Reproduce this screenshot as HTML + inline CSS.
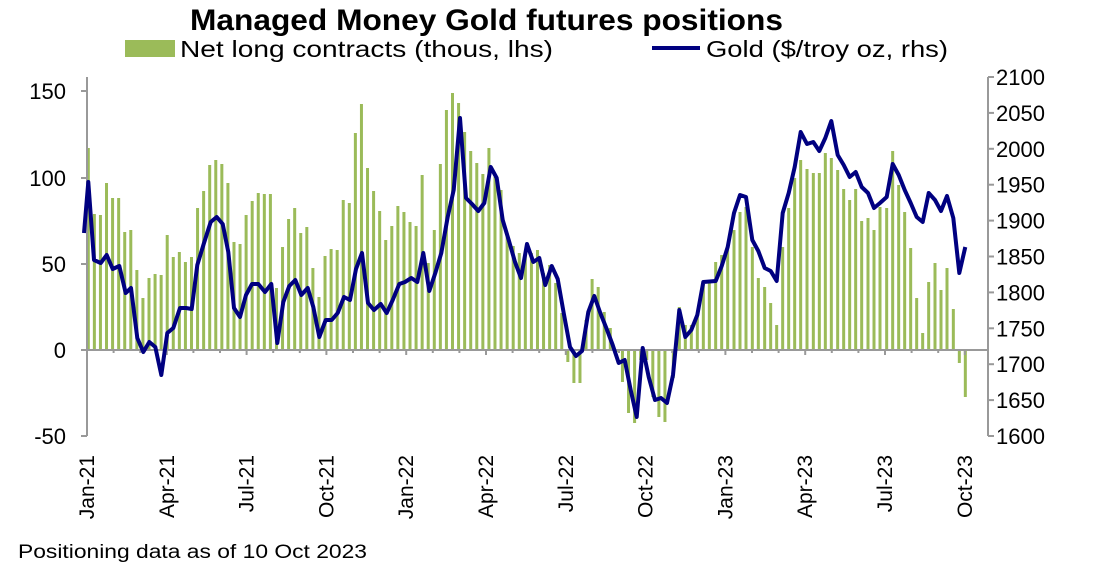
<!DOCTYPE html>
<html><head><meta charset="utf-8"><style>
body{margin:0;background:#fff;}
svg{display:block;font-family:"Liberation Sans",sans-serif;}
</style></head><body>
<svg id="c" width="1094" height="584" xmlns="http://www.w3.org/2000/svg">
<text x="190" y="30" font-size="30" font-weight="bold" fill="#000" textLength="593" lengthAdjust="spacingAndGlyphs">Managed Money Gold futures positions</text>
<rect x="125" y="40" width="50" height="17" fill="#9bbb59"/>
<text x="180" y="57" font-size="23" fill="#000" textLength="373" lengthAdjust="spacingAndGlyphs">Net long contracts (thous, lhs)</text>
<line x1="652" y1="48" x2="700" y2="48" stroke="#000080" stroke-width="4"/>
<text x="706" y="57" font-size="23" fill="#000" textLength="242" lengthAdjust="spacingAndGlyphs">Gold ($/troy oz, rhs)</text>
<g id="bars" fill="#9bbb59"></g>
<line x1="87" y1="77" x2="87" y2="436" stroke="#999" stroke-width="2"/>
<line x1="988" y1="77" x2="988" y2="436" stroke="#999" stroke-width="2"/>
<line x1="87" y1="350" x2="988" y2="350" stroke="#999" stroke-width="2"/>
<g id="ticks" stroke="#999" stroke-width="2"></g>
<polyline id="gold" fill="none" stroke="#000080" stroke-width="4" stroke-linejoin="round"/>
<g font-size="22" fill="#000" text-anchor="end">
<text x="66" y="99">150</text><text x="66" y="186">100</text><text x="66" y="272">50</text><text x="66" y="358">0</text><text x="66" y="444">-50</text>
</g>
<g id="rl" font-size="22" fill="#000"></g>
<g id="xl" font-size="21" fill="#000"></g>
<text x="18" y="558" font-size="19" fill="#000" textLength="349" lengthAdjust="spacingAndGlyphs">Positioning data as of 10 Oct 2023</text>
</svg>
<script>
var ns="http://www.w3.org/2000/svg";
function el(t,a,p,txt){var e=document.createElementNS(ns,t);for(var k in a)e.setAttribute(k,a[k]);if(txt)e.textContent=txt;document.getElementById(p).appendChild(e);}
var A=[148,214,215,183,198,198,232,230,270,298,278,274,275,235,257,252,262,257,208,191,165,160,164,183,242,244,215,201,193,194,194,288,247,219,208,233,227,268,297,256,249,250,200,203,133,104,168,191,211,240,226,206,212,222,226,175,263,230,164,110,93,103,132,151,163,174,148,177,190,233,246,253,253,253,250,273,265,283,313,362,383,383,320,279,287,312,328,352,382,413,423,360,360,397,417,422];
for(var i=0;i<A.length;i++){var x=88.3+i*6.07,y=A[i];el("rect",{x:x-1.5,y:Math.min(y,350),width:3,height:Math.abs(350-y)},"bars");}
var B=[[10,378],[28,307],[46,325],[64,325],[82,315],[100,282],[118,282],[137,262],[155,255],[173,245],[192,230],[210,212],[228,207],[247,247],[265,278],[284,287],[302,303],[320,325],[338,247],[356,208],[374,178],[392,160],[411,169],[430,173],[448,173],[466,153],[484,158],[503,170],[521,189],[539,200],[557,189],[575,221],[594,218],[612,230],[630,207],[650,208],[668,151],[686,185],[704,212],[722,248],[740,298],[758,333],[776,282],[795,263],[813,290],[831,268],[850,309],[868,363],[886,397]];
B.forEach(function(b){var x=670+b[0]/3,y=b[1];el("rect",{x:x-1.5,y:Math.min(y,350),width:3,height:Math.abs(350-y)},"bars");});
var G=[[84,233],[88.3,182],[94,260],[100.7,263],[106.7,255],[112.7,269],[119.3,266],[125.7,293],[131,288],[137.3,338],[143.3,352],[149.3,342],[155.3,347],[161.3,375],[167.3,333],[173.3,328],[180,308],[186,308],[191.7,309],[197.3,265],[204,243],[210.7,222],[216.7,217],[222.7,224],[228.3,252],[234,308],[240,317],[246,295],[252,284],[258.3,284],[265,292],[271.3,284],[277.3,343],[283.3,302],[289.3,286],[295.3,280],[301.3,295],[307.7,288],[313.3,307],[319.3,337],[325.7,320],[331.7,320],[337.7,313],[344,297],[350,300],[356,269],[362,253],[368,303],[374,310],[380.7,304],[386.7,313],[392.7,300],[399.3,284],[405,282],[411.3,278],[417.3,282],[423.3,253],[429.3,291],[435.3,273],[441.3,253],[447.7,217],[453.7,190],[460,118],[466,198],[472,204],[478.3,211],[484.3,203],[490.7,167],[496.7,178],[502.7,220],[508.7,240],[515,262],[521,278],[527,244],[533.3,262],[539.3,258],[545.3,285],[551.7,266],[557.7,279],[563.7,313],[570,347],[576,356],[582,351],[588.3,312],[594.3,296],[600.3,313],[606.3,328],[612.7,345],[618.7,363],[624.7,360],[630.7,390],[636.7,417],[642.7,348],[648.7,377],[655,400],[661,398],[667,403],[673,375],[679.3,310],[685.3,337],[691.3,330],[697.3,315],[703.3,282],[715.7,281],[721.7,266],[727.7,247],[734,213],[740,195],[746,197],[752.3,240],[758.3,251],[764.7,268],[770.7,271],[776.7,281],[782.7,213],[788.7,193],[794.7,167],[800.7,132],[807,144],[813.3,142],[819.3,151],[825.3,138],[831.3,121],[837.7,155],[843.7,165],[849.7,177],[855.7,172],[861.7,187],[868,193],[874,208],[880,203],[886.7,197],[892.7,164],[898.7,175],[904.7,190],[910.7,203],[916.7,217],[922.7,222],[928.7,193],[935,200],[941,211],[947,196],[953.3,218],[959.3,273],[965.3,247]];
document.getElementById("gold").setAttribute("points",G.map(function(p){return p.join(",")}).join(" "));
for(var v=1600;v<=2100;v+=50){var y=436-(v-1600)*0.718;el("line",{x1:988,y1:y,x2:994,y2:y},"ticks");el("text",{x:996,y:y+8},"rl",String(v));}
[91,178,264,350,436].forEach(function(y){el("line",{x1:81,y1:y,x2:87,y2:y},"ticks");});
var L=["Jan-21","Apr-21","Jul-21","Oct-21","Jan-22","Apr-22","Jul-22","Oct-22","Jan-23","Apr-23","Jul-23","Oct-23"];
for(var i=0;i<34;i++){var x=87+i*79.8/3;el("line",{x1:x,y1:350,x2:x,y2:i%3==0?355:353},"ticks");}
L.forEach(function(t,i){var x=87+i*79.8+7;el("text",{x:0,y:0,transform:"translate("+x+",455) rotate(-90)","text-anchor":"end"},"xl",t);});
</script>
</body></html>
